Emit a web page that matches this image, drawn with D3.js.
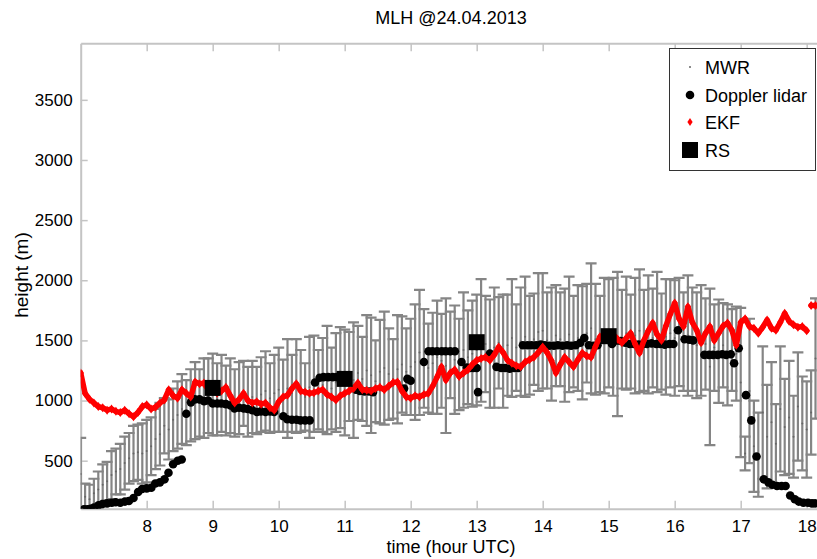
<!DOCTYPE html>
<html>
<head>
<meta charset="utf-8">
<script src="https://cdn.jsdelivr.net/npm/d3@7"></script>
<style>
  body { margin: 0; background: #fff; }
  text { font-family: "Liberation Sans", Arial, Helvetica, sans-serif; fill: #000; }
</style>
</head>
<body>
<svg id="chart" width="817" height="559"></svg>
<script>
// ---- Mixing layer height, 24.04.2013 ----

// Common sampling grid of the MWR retrieval and the EKF estimate (hours UTC)
const gridStart = 7.0;
const gridStepMinutes = 4;

// MWR: mixing layer height (m) and its uncertainty (m), one value per grid step
const mwrHeight = [
  390, 200, 180, 230, 260, 300, 330, 380, 410, 430, 480, 520, 560, 570, 560,
  580, 620, 680, 720, 790, 760, 840, 880, 930, 900, 960, 1000, 980, 1020, 1040,
  1050, 1010, 1060, 1000, 1040, 980, 1020, 1060, 990, 1030, 1000, 1050, 1080, 1020, 1060,
  1090, 1040, 1100, 1060, 1120, 1080, 1030, 1110, 1140, 1090, 1130, 1170, 1100, 1150, 1190,
  1150, 1200, 1170, 1230, 1180, 1250, 1210, 1160, 1240, 1270, 1220, 1180, 1260, 1300, 1240,
  1280, 1320, 1400, 1350, 1270, 1310, 1360, 1330, 1290, 1380, 1340, 1300, 1420, 1360, 1390,
  1420, 1500, 1470, 1390, 1440, 1480, 1410, 1460, 1520, 1440, 1490, 1530, 1460, 1510, 1570,
  1580, 1500, 1470, 1540, 1510, 1460, 1550, 1490, 1520, 1480, 1560, 1600, 1510, 1470, 1540,
  1560, 1530, 1470, 1510, 1560, 1490, 1540, 1580, 1500, 1550, 1520, 1570, 1490, 1530, 1560,
  1520, 1570, 1490, 1540, 1510, 1460, 1500, 1470, 1280, 1440, 1410, 1460, 1380, 1420, 1390,
  1150, 560, 1080, 620, 550, 900, 700, 820, 640, 930, 780, 860, 700, 950, 810,
  760, 900, 1350
];
const mwrError = [
  300, 110, 120, 120, 150, 170, 160, 200, 190, 210, 220, 210, 230, 230, 250,
  260, 240, 250, 260, 230, 250, 260, 280, 290, 270, 300, 320, 280, 330, 310,
  340, 300, 320, 290, 310, 280, 300, 270, 290, 300, 280, 310, 330, 290, 320,
  350, 300, 410, 320, 390, 340, 280, 420, 400, 330, 390, 450, 340, 410, 420,
  440, 370, 480, 390, 350, 460, 480, 340, 430, 470, 380, 330, 450, 400, 360,
  400, 480, 520, 410, 370, 420, 470, 390, 560, 360, 450, 380, 480, 390, 440,
  460, 510, 400, 450, 500, 380, 470, 420, 490, 360, 450, 500, 410, 380, 490,
  480, 400, 470, 420, 390, 470, 480, 380, 440, 470, 410, 540, 460, 400, 480,
  450, 490, 600, 410, 470, 390, 480, 510, 420, 490, 410, 500, 400, 480, 450,
  480, 450, 410, 500, 430, 440, 460, 380, 650, 360, 430, 350, 420, 340, 390,
  620, 140, 600, 380, 350, 550, 430, 500, 330, 520, 400, 470, 340, 450, 390,
  400, 350, 500
];

// EKF estimate (m), same grid
const ekfHeight = [
  1230, 1060, 1010, 980, 950, 940, 920, 930, 910, 900, 920, 890, 865, 900, 950,
  965, 930, 945, 980, 1005, 1090, 1040, 1020, 1090, 1060, 1030, 1155, 1140, 1145, 1090,
  1100, 1060, 1080, 1110, 1040, 980, 1010, 1060, 1000, 980, 990, 970, 980, 940, 920,
  990, 1030, 1045, 1100, 1140, 1080, 1070, 1060, 1065, 1080, 1090, 1050, 1030, 1005, 1040,
  1060, 1080, 1100, 1145, 1090, 1085, 1080, 1100, 1110, 1090, 1120, 1150, 1155, 1080, 1030,
  1020, 1040, 1030, 1050, 1060, 1120, 1195, 1280, 1170, 1230, 1255, 1200, 1230, 1255, 1300,
  1335, 1350, 1360, 1335, 1380, 1445, 1400, 1335, 1310, 1290, 1280, 1320, 1340, 1360, 1400,
  1445, 1400, 1330, 1230, 1300, 1360, 1320, 1280, 1340, 1395, 1370, 1360, 1450, 1530, 1520,
  1560, 1550, 1510, 1480, 1520, 1560, 1470, 1395, 1500, 1580, 1645, 1550, 1500, 1620, 1720,
  1810, 1680, 1615, 1780, 1650, 1585, 1480, 1560, 1615, 1500, 1560, 1620, 1645, 1585, 1460,
  1650, 1680, 1615, 1600, 1560, 1610, 1670, 1600, 1585, 1650, 1725, 1660, 1630, 1610, 1615,
  1580, 1790, 1790
];

// Doppler lidar: observation times (hours UTC) and heights (m)
const lidarTime = [
  7.05, 7.10, 7.15, 7.20, 7.27, 7.33, 7.40, 7.47, 7.53, 7.60, 7.67, 7.73, 7.80, 7.87, 7.93,
  8.00, 8.07, 8.13, 8.20, 8.27, 8.33, 8.40, 8.47, 8.53, 8.60, 8.67, 8.73, 8.80, 8.87, 8.93,
  9.00, 9.07, 9.13, 9.20, 9.27, 9.33, 9.40, 9.47, 9.53, 9.60, 9.67, 9.73, 9.80, 9.87, 9.93,
  10.07, 10.13, 10.20, 10.27, 10.33, 10.40, 10.47,
  10.55, 10.62, 10.68, 10.75, 10.82, 10.88, 10.95,
  11.17, 11.23, 11.30, 11.37, 11.43,
  11.90, 11.95, 12.00,
  12.20, 12.27, 12.33, 12.40, 12.47, 12.53, 12.60, 12.67,
  12.77, 12.85, 12.90, 12.95, 13.00, 13.02, 13.20,
  13.30, 13.37, 13.43, 13.50, 13.57, 13.63,
  13.70, 13.77, 13.83, 13.90, 13.97, 14.03, 14.10, 14.17, 14.23, 14.30, 14.37, 14.43,
  14.50, 14.57, 14.63, 14.70, 14.77, 14.83,
  15.05, 15.12, 15.18, 15.25, 15.32, 15.38, 15.45, 15.52, 15.58, 15.65, 15.72, 15.78,
  15.85, 15.92, 15.98, 16.05, 16.15, 16.22, 16.28,
  16.45, 16.52, 16.58, 16.65, 16.72, 16.78, 16.85, 16.90, 16.97,
  17.08, 17.16, 17.24, 17.35, 17.42, 17.48, 17.55, 17.62, 17.68,
  17.75, 17.82, 17.88, 17.95, 18.02, 18.08, 18.13
];
const lidarHeight = [
  95, 95, 100, 110, 130, 140, 145, 150, 155, 150, 160, 165, 190, 240, 265,
  270, 275, 310, 320, 345, 400, 470, 500, 510, 890, 985, 1010, 1010, 995, 1000,
  975, 975, 975, 970, 960, 935, 940, 935, 930, 920, 905, 910, 905, 910, 905,
  870, 845, 840, 840, 835, 835, 835,
  1150, 1190, 1195, 1195, 1195, 1195, 1195,
  1090, 1080, 1075, 1075, 1070,
  1100, 1180, 1165,
  1320, 1410, 1410, 1410, 1410, 1410, 1410, 1410,
  1320, 1275, 1270, 1270, 1270, 1070, 1390,
  1280, 1270, 1270, 1265, 1270, 1270,
  1460, 1460, 1460, 1460, 1465, 1460, 1455, 1455, 1460, 1455, 1460, 1455,
  1460, 1480, 1520, 1460, 1455, 1460,
  1470, 1500, 1495, 1480, 1470, 1470, 1465, 1470, 1470, 1475, 1470, 1470,
  1465, 1470, 1470, 1585, 1510, 1505, 1500,
  1380, 1380, 1380, 1380, 1385, 1380, 1385, 1310, 1435,
  1045, 835, 535, 345, 320, 300, 290, 290, 290,
  210, 180, 160, 150, 150, 145, 145
];

// Radiosondes
const rsTime = [9.0, 11.0, 13.0, 15.0];
const rsHeight = [1105, 1180, 1485, 1535];

// Axis ticks and labels
const xTicks = [8, 9, 10, 11, 12, 13, 14, 15, 16, 17, 18];
const yTicks = [500, 1000, 1500, 2000, 2500, 3000, 3500];
const titleText = "MLH @24.04.2013";
const xLabel = "time (hour UTC)";
const yLabel = "height (m)";
const legendLabels = ["MWR", "Doppler lidar", "EKF", "RS"];

// ---- drawing ----
const svg = d3.select("#chart");
const plot = { left: 80.7, right: 819.9, top: 43.3, bottom: 508.8 };

const x = d3.scaleLinear().domain([7, 18.2]).range([plot.left, plot.right]);
const y = d3.scaleLinear().domain([100, 3970]).range([plot.bottom, plot.top]);

const gridTime = mwrHeight.map((_, i) => gridStart + i * gridStepMinutes / 60);

svg.append("rect").attr("width", 817).attr("height", 559).attr("fill", "#fff");

svg.append("defs").append("clipPath").attr("id", "plotClip")
  .append("rect")
  .attr("x", plot.left).attr("y", plot.top)
  .attr("width", plot.right - plot.left).attr("height", plot.bottom - plot.top);

const axisColor = "#c4c4c4";

// axes
const gx = svg.append("g").attr("transform", `translate(0,${plot.bottom})`)
  .call(d3.axisBottom(x).tickValues(xTicks).tickFormat(d3.format("d"))
    .tickSizeInner(-8).tickSizeOuter(0).tickPadding(11));
const gxTop = svg.append("g").attr("transform", `translate(0,${plot.top})`)
  .call(d3.axisTop(x).tickValues(xTicks).tickFormat("")
    .tickSizeInner(-8).tickSizeOuter(0));
const gy = svg.append("g").attr("transform", `translate(${plot.left},0)`)
  .call(d3.axisLeft(y).tickValues(yTicks).tickFormat(d3.format("d"))
    .tickSizeInner(-7).tickSizeOuter(0).tickPadding(8));

[gx, gxTop, gy].forEach(g => {
  g.select(".domain").attr("stroke", axisColor).attr("stroke-width", 2);
  g.selectAll(".tick line").attr("stroke", axisColor).attr("stroke-width", 1.5);
  g.selectAll(".tick text").attr("font-size", 17).attr("fill", "#000")
    .style("font-family", '"Liberation Sans", Arial, sans-serif');
});

const data = svg.append("g").attr("clip-path", "url(#plotClip)");

// MWR error bars
const capHalf = 5.5;
const mwrColor = "#858585";
const bars = data.append("g").attr("stroke", mwrColor).attr("stroke-width", 2.2).attr("fill", "none");
mwrHeight.forEach((h, i) => {
  const cx = x(gridTime[i]);
  const lo = y(h - mwrError[i]);
  const hi = y(h + mwrError[i]);
  bars.append("path").attr("d",
    `M${cx},${lo}V${hi}` +
    `M${cx - capHalf},${lo}H${cx + capHalf}` +
    `M${cx - capHalf},${hi}H${cx + capHalf}`);
});
data.append("g").selectAll("circle").data(mwrHeight).join("circle")
  .attr("cx", (d, i) => x(gridTime[i])).attr("cy", d => y(d))
  .attr("r", 1).attr("fill", "#666");

// Doppler lidar
data.append("g").selectAll("circle").data(lidarHeight).join("circle")
  .attr("cx", (d, i) => x(lidarTime[i])).attr("cy", d => y(d))
  .attr("r", 4.3).attr("fill", "#000");

// EKF: dense diamond markers joined where the estimate is continuous
const ekfColor = "#ff0000";
const ekfPts = ekfHeight.map((h, i) => [x(gridTime[i]), y(h), h]);
let seg = "";
ekfPts.forEach((p, i) => {
  if (i === 0 || Math.abs(p[2] - ekfPts[i - 1][2]) > 200) seg += `M${p[0]},${p[1]}`;
  else seg += `L${p[0]},${p[1]}`;
});
data.append("path").attr("d", seg).attr("fill", "none")
  .attr("stroke", ekfColor).attr("stroke-width", 5.5).attr("stroke-linejoin", "round")
  .attr("stroke-linecap", "round");
const diamond = "M0,-4.5L3.2,0L0,4.5L-3.2,0Z";
data.append("g").selectAll("path").data(ekfPts).join("path")
  .attr("d", diamond).attr("transform", d => `translate(${d[0]},${d[1]})`)
  .attr("fill", ekfColor);

// Radiosondes
const rsSize = 16;
data.append("g").selectAll("rect").data(rsHeight).join("rect")
  .attr("x", (d, i) => x(rsTime[i]) - rsSize / 2)
  .attr("y", d => y(d) - rsSize / 2)
  .attr("width", rsSize).attr("height", rsSize).attr("fill", "#000");

// titles
svg.append("text").attr("x", 451).attr("y", 24).attr("text-anchor", "middle")
  .attr("font-size", 18).text(titleText);
svg.append("text").attr("x", 451).attr("y", 553).attr("text-anchor", "middle")
  .attr("font-size", 18).text(xLabel);
svg.append("text").attr("transform", "translate(28,275) rotate(-90)")
  .attr("text-anchor", "middle").attr("font-size", 19).text(yLabel);

// legend
const lg = svg.append("g");
lg.append("rect").attr("x", 669.5).attr("y", 48.5).attr("width", 146).attr("height", 122)
  .attr("fill", "#fff").attr("stroke", "#333").attr("stroke-width", 1);
const rowY = [67, 95, 122, 150];
const mx = 690;
lg.append("circle").attr("cx", mx).attr("cy", rowY[0]).attr("r", 1).attr("fill", "#666");
lg.append("circle").attr("cx", mx).attr("cy", rowY[1]).attr("r", 4.3).attr("fill", "#000");
lg.append("path").attr("d", "M0,-4L2.6,0L0,4L-2.6,0Z")
  .attr("transform", `translate(${mx},${rowY[2]})`).attr("fill", ekfColor);
lg.append("rect").attr("x", mx - 8).attr("y", rowY[3] - 8).attr("width", 16).attr("height", 16)
  .attr("fill", "#000");
legendLabels.forEach((t, i) => {
  lg.append("text").attr("x", 705).attr("y", rowY[i] + 6.5).attr("font-size", 18).text(t);
});
</script>
</body>
</html>
